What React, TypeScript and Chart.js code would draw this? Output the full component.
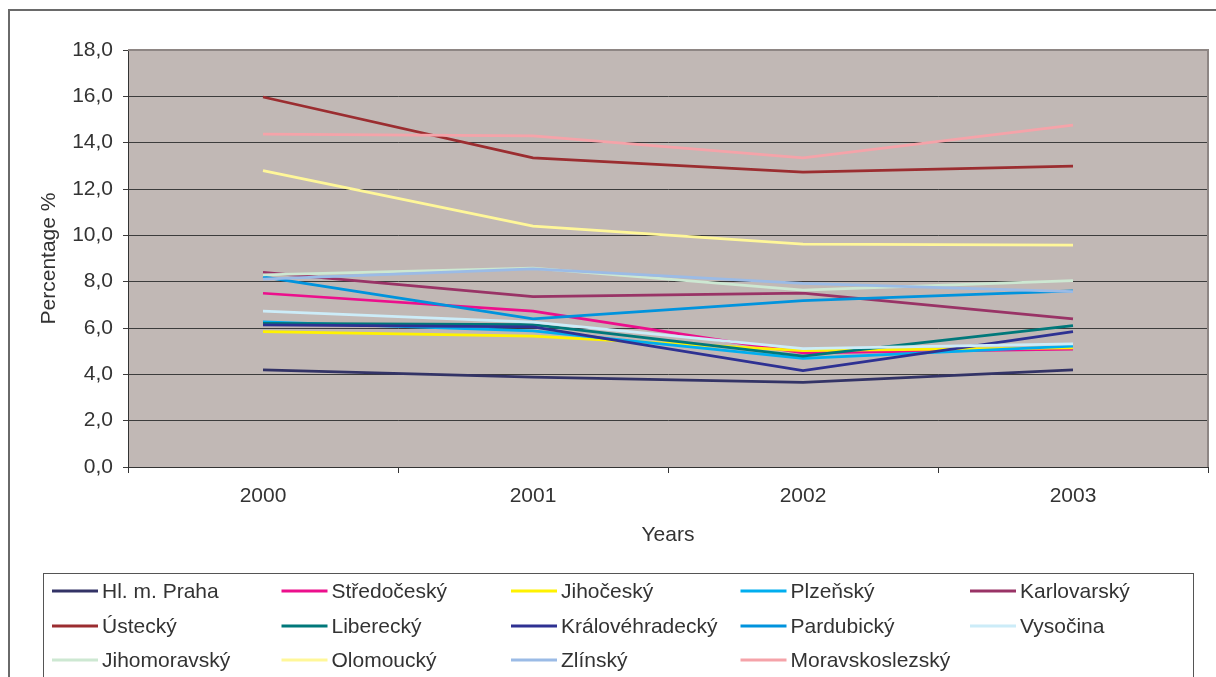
import { useEffect, useRef } from "react";
import { Chart, registerables } from "chart.js";

Chart.register(...registerables);

// Years on the category axis
const YEARS = ["2000", "2001", "2002", "2003"];

// Region names, in legend order
const REGIONS = [
  "Hl. m. Praha",
  "Středočeský",
  "Jihočeský",
  "Plzeňský",
  "Karlovarský",
  "Ústecký",
  "Liberecký",
  "Královéhradecký",
  "Pardubický",
  "Vysočina",
  "Jihomoravský",
  "Olomoucký",
  "Zlínský",
  "Moravskoslezský",
];

// Percentage per region and year
const PRAHA = [4.19, 3.88, 3.65, 4.19];
const STREDOCESKY = [7.5, 6.73, 4.93, 5.09];
const JIHOCESKY = [5.84, 5.65, 5.02, 5.14];
const PLZENSKY = [6.26, 5.88, 4.69, 5.22];
const KARLOVARSKY = [8.4, 7.35, 7.5, 6.39];
const USTECKY = [15.97, 13.34, 12.73, 12.99];
const LIBERECKY = [6.2, 6.15, 4.79, 6.1];
const KRALOVEHRADECKY = [6.14, 6.05, 4.16, 5.84];
const PARDUBICKY = [8.21, 6.39, 7.18, 7.6];
const VYSOCINA = [6.73, 6.25, 5.11, 5.32];
const JIHOMORAVSKY = [8.29, 8.58, 7.64, 8.04];
const OLOMOUCKY = [12.79, 10.4, 9.62, 9.58];
const ZLINSKY = [8.11, 8.55, 7.93, 7.57];
const MORAVSKOSLEZSKY = [14.37, 14.29, 13.34, 14.76];

const SERIES = [
  PRAHA,
  STREDOCESKY,
  JIHOCESKY,
  PLZENSKY,
  KARLOVARSKY,
  USTECKY,
  LIBERECKY,
  KRALOVEHRADECKY,
  PARDUBICKY,
  VYSOCINA,
  JIHOMORAVSKY,
  OLOMOUCKY,
  ZLINSKY,
  MORAVSKOSLEZSKY,
];

const COLORS = [
  "#333366",
  "#ec0f8c",
  "#fff200",
  "#00aeef",
  "#993366",
  "#9b2d30",
  "#00787a",
  "#2e3192",
  "#0093dd",
  "#ccecf8",
  "#cde8d2",
  "#fff799",
  "#9bbbe6",
  "#f5a3a9",
];

// Value axis range
const Y_MIN = 0;
const Y_MAX = 18;
const Y_STEP = 2;

const FONT = '"Liberation Sans", Arial, sans-serif';
const TEXT = "#333333";
const PLOT_BG = "#c1b8b5";

// Plot background, outer frame, plot edges and the boxed legend
const decorations = {
  id: "decorations",
  beforeDraw(chart: any) {
    const { ctx, chartArea: a } = chart;
    ctx.save();
    ctx.fillStyle = PLOT_BG;
    ctx.fillRect(a.left, a.top, a.right - a.left, a.bottom - a.top);

    // outer frame
    ctx.strokeStyle = "#6a6a6a";
    ctx.lineWidth = 2;
    ctx.beginPath();
    ctx.moveTo(9, 700);
    ctx.lineTo(9, 10);
    ctx.lineTo(1230, 10);
    ctx.stroke();
    ctx.restore();
  },
  afterDraw(chart: any) {
    const { ctx, chartArea: a } = chart;
    ctx.save();

    // top and right plot edges
    ctx.strokeStyle = "#8e8684";
    ctx.lineWidth = 2;
    ctx.beginPath();
    ctx.moveTo(a.left, a.top);
    ctx.lineTo(a.right, a.top);
    ctx.lineTo(a.right, a.bottom);
    ctx.stroke();

    // legend box
    const boxLeft = 43.5;
    const boxTop = 573.5;
    const boxRight = 1193.5;
    const boxBottom = 690;
    ctx.strokeStyle = "#555555";
    ctx.lineWidth = 1;
    ctx.strokeRect(boxLeft, boxTop, boxRight - boxLeft, boxBottom - boxTop);

    const colX = 52;
    const colW = 229.5;
    const rowY = [591, 626, 660];
    ctx.font = `21px ${FONT}`;
    ctx.textBaseline = "middle";
    ctx.textAlign = "left";
    chart.data.datasets.forEach((ds: any, i: number) => {
      const col = i % 5;
      const row = Math.floor(i / 5);
      const x0 = colX + col * colW;
      const y = rowY[row];
      ctx.strokeStyle = ds.borderColor;
      ctx.lineWidth = 3;
      ctx.beginPath();
      ctx.moveTo(x0, y);
      ctx.lineTo(x0 + 46, y);
      ctx.stroke();
      ctx.fillStyle = TEXT;
      ctx.fillText(ds.label, x0 + 50, y + 1);
    });
    ctx.restore();
  },
};

export default function App() {
  const canvasRef = useRef<HTMLCanvasElement | null>(null);

  useEffect(() => {
    const canvas = canvasRef.current;
    if (!canvas) return;

    Chart.defaults.font.family = FONT;
    Chart.defaults.font.size = 21;
    Chart.defaults.color = TEXT;

    const chart = new Chart(canvas, {
      type: "line",
      data: {
        labels: YEARS,
        datasets: REGIONS.map((name, i) => ({
          label: name,
          data: SERIES[i],
          borderColor: COLORS[i],
          backgroundColor: COLORS[i],
          borderWidth: 2.75,
          pointRadius: 0,
          tension: 0,
          fill: false,
          order: REGIONS.length - i,
        })),
      },
      options: {
        animation: false,
        responsive: true,
        maintainAspectRatio: false,
        events: [],
        layout: { padding: { top: 50, right: 8, bottom: 129, left: 0 } },
        plugins: {
          legend: { display: false },
          tooltip: { enabled: false },
          title: { display: false },
        },
        scales: {
          x: {
            type: "category",
            offset: true,
            grid: {
              offset: true,
              drawOnChartArea: false,
              drawTicks: true,
              tickLength: 6,
              color: "#333333",
            },
            border: { color: "#333333", width: 1 },
            ticks: { padding: 11, color: TEXT, maxRotation: 0 },
            title: {
              display: true,
              text: "Years",
              color: TEXT,
              padding: 0,
            },
            afterFit: (s: any) => {
              s.height = 81;
            },
          },
          y: {
            min: Y_MIN,
            max: Y_MAX,
            ticks: {
              stepSize: Y_STEP,
              padding: 10,
              color: TEXT,
              callback: (v: any) => Number(v).toFixed(1).replace(".", ","),
            },
            grid: { color: "#3c3c3c", lineWidth: 1, tickLength: 5 },
            border: { color: "#333333", width: 1 },
            title: {
              display: true,
              text: "Percentage %",
              color: TEXT,
              padding: { top: 37, bottom: 0 },
            },
            afterFit: (s: any) => {
              s.width = 128;
            },
          },
        },
      },
      plugins: [decorations],
    });

    return () => chart.destroy();
  }, []);

  return (
    <div
      style={{
        position: "absolute",
        left: 0,
        top: 0,
        width: 1216,
        height: 677,
        background: "#ffffff",
      }}
    >
      <canvas ref={canvasRef} />
    </div>
  );
}
